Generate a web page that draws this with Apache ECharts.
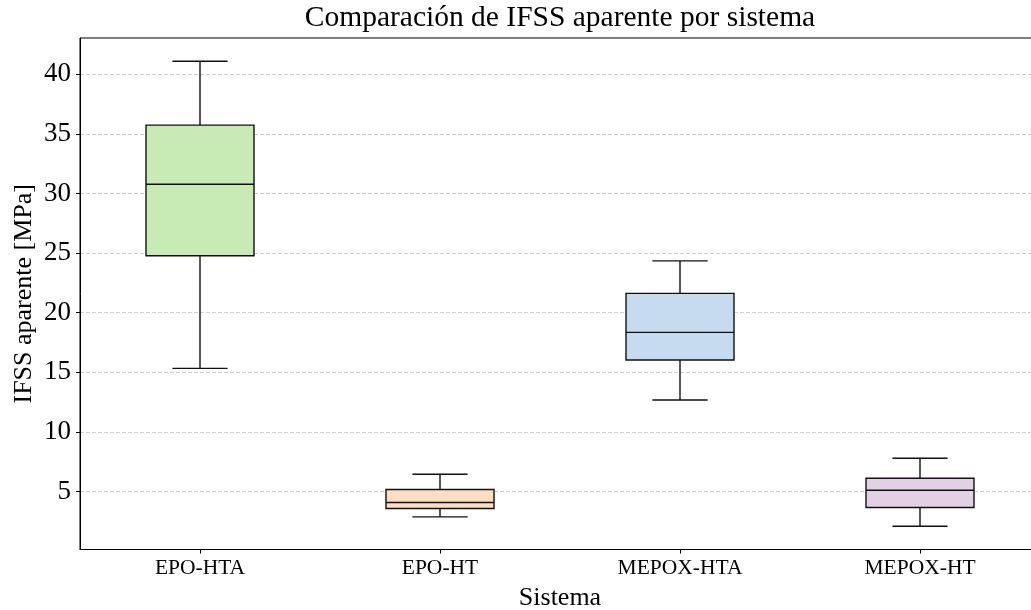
<!DOCTYPE html>
<html>
<head>
<meta charset="utf-8">
<script src="https://cdn.jsdelivr.net/npm/echarts@6/dist/echarts.min.js"></script>
<style>
html,body{margin:0;padding:0;background:#fff;}
#chart{width:1031px;height:610px;}
</style>
</head>
<body>
<div id="chart"></div>
<script>
const categories = ['EPO-HTA', 'EPO-HT', 'MEPOX-HTA', 'MEPOX-HT'];
const whiskerLow = [15.33, 2.88, 12.68, 2.09];
const q1 = [24.78, 3.58, 16.03, 3.66];
const median = [30.78, 4.08, 18.35, 5.11];
const q3 = [35.73, 5.17, 21.62, 6.11];
const whiskerHigh = [41.09, 6.45, 24.35, 7.79];
const yTicks = [5, 10, 15, 20, 25, 30, 35, 40];
const yMin = 0.14;
const yMax = 43.04;

const boxColors = ['#c8eab4', '#fedec3', '#c6dbef', '#e2d0e4'];
const FONT = '"Liberation Serif", "Times New Roman", serif';

const chart = echarts.init(document.getElementById('chart'), null, {renderer: 'canvas'});

const data = categories.map((c, i) => [i, whiskerLow[i], q1[i], median[i], q3[i], whiskerHigh[i]]);

function renderItem(params, api) {
  const idx = api.value(0);
  const lowP = api.coord([idx, api.value(1)]);
  const q1P = api.coord([idx, api.value(2)]);
  const medP = api.coord([idx, api.value(3)]);
  const q3P = api.coord([idx, api.value(4)]);
  const highP = api.coord([idx, api.value(5)]);
  const band = api.size([1, 0])[0];
  const bw = band * 0.45;
  const cw = band * 0.23;
  const cx = lowP[0];
  const lineStyle = {stroke: '#111', lineWidth: 1.4, fill: null};
  return {
    type: 'group',
    children: [
      {type: 'line', shape: {x1: cx, y1: lowP[1], x2: cx, y2: q1P[1]}, style: lineStyle},
      {type: 'line', shape: {x1: cx, y1: q3P[1], x2: cx, y2: highP[1]}, style: lineStyle},
      {type: 'line', shape: {x1: cx - cw / 2, y1: lowP[1], x2: cx + cw / 2, y2: lowP[1]}, style: lineStyle},
      {type: 'line', shape: {x1: cx - cw / 2, y1: highP[1], x2: cx + cw / 2, y2: highP[1]}, style: lineStyle},
      {type: 'rect', shape: {x: cx - bw / 2, y: q3P[1], width: bw, height: q1P[1] - q3P[1]},
        style: {fill: boxColors[idx], stroke: '#111', lineWidth: 1.4}},
      {type: 'line', shape: {x1: cx - bw / 2, y1: medP[1], x2: cx + bw / 2, y2: medP[1]}, style: lineStyle}
    ]
  };
}

const option = {
  animation: false,
  backgroundColor: '#fff',
  textStyle: {fontFamily: FONT},
  grid: {left: 80, top: 38, right: -9, bottom: 60.5, outerBoundsMode: 'none', containLabel: false,
    show: true, borderColor: '#000', borderWidth: 1, backgroundColor: 'transparent'},
  graphic: [{
    type: 'text', x: 560, y: 18.5,
    style: {text: 'Comparación de IFSS aparente por sistema', font: '29.5px ' + FONT, fill: '#000', textAlign: 'center', textVerticalAlign: 'middle'}
  }],
  xAxis: {
    type: 'category',
    data: categories,
    name: 'Sistema',
    nameLocation: 'middle',
    nameGap: 36,
    nameMoveOverlap: false,
    nameTextStyle: {fontFamily: FONT, fontSize: 26, color: '#000'},
    axisLine: {show: true, lineStyle: {color: '#000', width: 1}},
    axisTick: {show: true, alignWithLabel: true, length: 4, lineStyle: {color: '#000'}},
    axisLabel: {fontFamily: FONT, fontSize: 21.5, color: '#000', margin: 8},
    splitLine: {show: false}
  },
  yAxis: {
    type: 'value',
    min: yMin,
    max: yMax,
    splitNumber: 8,
    name: 'IFSS aparente [MPa]',
    nameLocation: 'middle',
    nameGap: 43,
    nameMoveOverlap: false,
    nameTextStyle: {fontFamily: FONT, fontSize: 26, color: '#000'},
    axisLine: {show: true, lineStyle: {color: '#000', width: 1}},
    axisTick: {show: true, length: 4, customValues: yTicks, lineStyle: {color: '#000'}},
    axisLabel: {fontFamily: FONT, fontSize: 27, color: '#000', margin: 9, customValues: yTicks},
    splitLine: {show: true, lineStyle: {color: '#d0d0d0', type: [4, 2], width: 1}}
  },
  series: [{
    type: 'custom',
    renderItem: renderItem,
    encode: {x: 0, y: [1, 2, 3, 4, 5]},
    data: data,
    clip: false,
    z: 5
  }]
};
chart.setOption(option);
</script>
</body>
</html>
